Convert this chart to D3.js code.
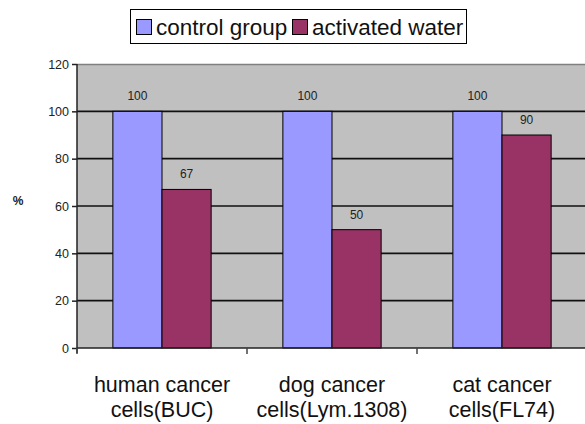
<!DOCTYPE html>
<html><head><meta charset="utf-8">
<script src="https://cdn.jsdelivr.net/npm/d3@7"></script>
<style>body{margin:0;background:#fff}svg{display:block}text{font-family:"Liberation Sans",Arial,sans-serif}</style>
</head><body>
<svg id="c" width="585" height="424"></svg>
<script>
const categories = [["human cancer","cells(BUC)"],["dog cancer","cells(Lym.1308)"],["cat cancer","cells(FL74)"]];
const seriesNames = ["control group","activated water"];
const controlGroup = [100,100,100];
const activatedWater = [67,50,90];
const yTicks = [0,20,40,60,80,100,120];
const colors = ["#9999ff","#993366"];

(function(){
const svg = d3.select("#c");
const pL=77, pT=64, pB=348, pR=587;
const x = d3.scaleBand().domain(d3.range(categories.length)).range([pL,pR]).padding(0);
const y = d3.scaleLinear().domain([0,120]).range([pB,pT]);
const inner = d3.scaleBand().domain([0,1]).range([0,x.bandwidth()]).paddingInner(0).paddingOuter(0.73);

svg.append("rect").attr("x",pL).attr("y",pT).attr("width",585-pL).attr("height",pB-pT).attr("fill","#c0c0c0");
svg.append("line").attr("x1",pL).attr("x2",585).attr("y1",pT+0.5).attr("y2",pT+0.5).attr("stroke","#808080").attr("stroke-width",1.5);

svg.append("g").selectAll("line").data(yTicks.filter(t=>t>0&&t<120)).join("line")
  .attr("x1",pL).attr("x2",585).attr("y1",d=>y(d)).attr("y2",d=>y(d))
  .attr("stroke","#111").attr("stroke-width",1.6);

const data = [controlGroup, activatedWater];
categories.forEach((c,i)=>{
  data.forEach((s,j)=>{
    const bx = x(i)+inner(j);
    svg.append("rect").attr("x",bx).attr("y",y(s[i])).attr("width",inner.bandwidth()).attr("height",pB-y(s[i]))
      .attr("fill",colors[j]).attr("stroke","#000").attr("stroke-width",1);
    svg.append("text").attr("x",bx+inner.bandwidth()/2).attr("y",y(s[i])-11).attr("text-anchor","middle")
      .attr("font-size",12).attr("fill","#222").text(s[i]);
  });
});

const yAxis = svg.append("g").attr("transform",`translate(${pL},0)`)
  .call(d3.axisLeft(y).tickValues(yTicks).tickSize(5).tickPadding(3));
yAxis.select(".domain").attr("d",`M0,${pT}V${pB+5}`).attr("stroke","#222").attr("stroke-width",1.5);
yAxis.selectAll(".tick line").attr("stroke","#222").attr("stroke-width",1.5);
yAxis.selectAll("text").attr("font-size",12.5).attr("fill","#222").attr("font-family","Liberation Sans, Arial, sans-serif");

svg.append("line").attr("x1",pL).attr("x2",585).attr("y1",pB).attr("y2",pB).attr("stroke","#222").attr("stroke-width",1.5);
svg.append("g").selectAll("line").data(d3.range(categories.length)).join("line")
  .attr("x1",d=>x(d)).attr("x2",d=>x(d)).attr("y1",pB).attr("y2",pB+6).attr("stroke","#444").attr("stroke-width",1.5);

categories.forEach((c,i)=>{
  const t = svg.append("text").attr("text-anchor","middle").attr("font-size",21.5).attr("fill","#111");
  c.forEach((line,k)=>t.append("tspan").attr("x",x(i)+x.bandwidth()/2).attr("y",392+k*24.5).text(line));
});

svg.append("text").attr("x",18).attr("y",205).attr("text-anchor","middle").attr("font-size",12).attr("font-weight","bold").attr("fill","#222").text("%");

const lg = svg.append("g");
lg.append("rect").attr("x",130.5).attr("y",9.5).attr("width",336).attr("height",34).attr("fill","#fff").attr("stroke","#000").attr("stroke-width",1);
const items = [{x:136},{x:292}];
seriesNames.forEach((n,j)=>{
  lg.append("rect").attr("x",items[j].x+0.5).attr("y",19.5).attr("width",15).attr("height",15).attr("fill",colors[j]).attr("stroke","#000");
  lg.append("text").attr("x",items[j].x+20).attr("y",35).attr("font-size",22.5).attr("textLength",null).attr("fill","#111").text(n);
});
})();
</script>
</body></html>
